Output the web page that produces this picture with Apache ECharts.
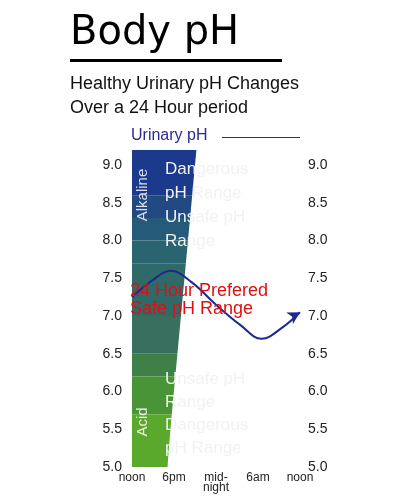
<!DOCTYPE html>
<html><head><meta charset="utf-8">
<script src="https://cdn.jsdelivr.net/npm/echarts@6/dist/echarts.min.js"></script>
<style>body{margin:0;background:#fff}#c{width:417px;height:500px}</style>
</head><body><div id="c"></div>
<script>
// horas desde el mediodia
const horas = [0, 3, 5.5, 8.5, 12, 15.5, 18.5, 21.5, 24];
const lineaPh = [7.25, 7.48, 7.6, 7.45, 7.15, 6.88, 6.7, 6.85, 7.05];
const bandaAlta = [7.45, 7.68, 7.78, 7.62, 7.32, 6.85, 6.5, 6.7, 6.9];
const bandaBaja = [7.0, 7.2, 7.33, 7.18, 6.9, 6.55, 6.35, 6.55, 6.72];
const etiquetasX = {0: 'noon', 6: '6pm', 12: 'mid-\nnight', 18: '6am', 24: 'noon'};
const franjas = [[8.6, 9.2, '#1b3a8c'], [8.3, 8.6, '#214a82'], [8.0, 8.3, '#255a78'], [7.7, 8.0, '#2a6470'],
  [7.0, 7.7, '#2f6a69'], [6.5, 7.0, '#386f5f'], [6.2, 6.5, '#3f8048'], [5.7, 6.2, '#4a9438'], [5.0, 5.7, '#5aa82c']];

const chart = echarts.init(document.getElementById('c'));
const ejeY = (pos) => ({
  type: 'value', min: 5, max: 9.2, interval: 0.5, position: pos,
  axisLine: {show: false}, axisTick: {show: false}, splitLine: {show: false},
  axisLabel: {color: '#222', fontSize: 14, fontFamily: 'Liberation Sans', margin: pos === 'left' ? 10 : 8,
    formatter: v => v > 9.01 ? '' : v.toFixed(1)}
});
chart.setOption({
  animation: false,
  grid: {left: 132, right: 117, top: 150, bottom: 33},
  xAxis: {type: 'value', min: 0, max: 24, interval: 6, axisLine: {show: false}, axisTick: {show: false},
    splitLine: {show: false},
    axisLabel: {color: '#222', fontSize: 12, fontFamily: 'Liberation Sans', margin: 6, lineHeight: 10,
      formatter: v => etiquetasX[v] || ''}},
  yAxis: [ejeY('left'), ejeY('right')],
  graphic: [
    {type: 'text', left: 70, top: 14, style: {text: 'Body pH', font: '500 40px "DejaVu Sans"', fill: '#000'}},
    {type: 'rect', shape: {x: 70, y: 59, width: 212, height: 3}, style: {fill: '#000'}},
    {type: 'text', left: 70, top: 72, style: {text: 'Healthy Urinary pH Changes\nOver a 24 Hour period',
      font: '18px "Liberation Sans"', lineHeight: 24, fill: '#111'}},
    {type: 'text', left: 131, top: 128, style: {text: 'Urinary pH', font: '16px "Liberation Sans"', fill: '#2a2a90'}},
    {type: 'rect', shape: {x: 222, y: 137, width: 78, height: 1}, style: {fill: '#2a2a90'}},
    {type: 'text', x: 143, y: 195, rotation: Math.PI / 2, z: 100, style: {text: 'Alkaline', font: '15px "Liberation Sans"',
      fill: '#dde', align: 'center', verticalAlign: 'middle'}},
    {type: 'text', x: 143, y: 422, rotation: Math.PI / 2, z: 100, style: {text: 'Acid', font: '15px "Liberation Sans"',
      fill: '#eee', align: 'center', verticalAlign: 'middle'}},
    {type: 'text', left: 165, top: 157, z: 100, style: {text: 'Dangerous\npH Range\nUnsafe pH\nRange', font: '17px "Liberation Sans"',
      lineHeight: 24, fill: '#f2f2f2'}},
    {type: 'text', left: 165, top: 368, z: 100, style: {text: 'Unsafe pH\nRange\nDangerous\npH Range', font: '17px "Liberation Sans"',
      lineHeight: 23, fill: '#f2f2f2'}},
    {type: 'text', left: 130, top: 282, z: 100, style: {text: '24 Hour Prefered\nSafe pH Range', font: '18px "Liberation Sans"',
      lineHeight: 18, fill: '#e01010'}}
  ],
  series: [
    {type: 'line', z: 0, data: [], markArea: {silent: true, z: 0,
      data: franjas.map(f => [{xAxis: 0, yAxis: f[0], itemStyle: {color: f[2]}}, {xAxis: 24, yAxis: f[1]}])}},
    {type: 'line', z: 3, stack: 'b', smooth: 0.4, symbol: 'none', lineStyle: {opacity: 0},
      data: horas.map((h, i) => [h, bandaBaja[i]])},
    {type: 'line', z: 3, stack: 'b', smooth: 0.4, symbol: 'none', lineStyle: {opacity: 0}, areaStyle: {color: '#fff', opacity: 1},
      data: horas.map((h, i) => [h, bandaAlta[i] - bandaBaja[i]])},
    {type: 'line', z: 4, smooth: 0.4, lineStyle: {color: '#1c2a90', width: 2},
      symbol: (v, p) => p.dataIndex === horas.length - 1 ? 'arrow' : 'none', symbolSize: [10, 12], symbolRotate: -60,
      itemStyle: {color: '#1c2a90'}, data: horas.map((h, i) => [h, lineaPh[i]])}
  ]
});
</script></body></html>
